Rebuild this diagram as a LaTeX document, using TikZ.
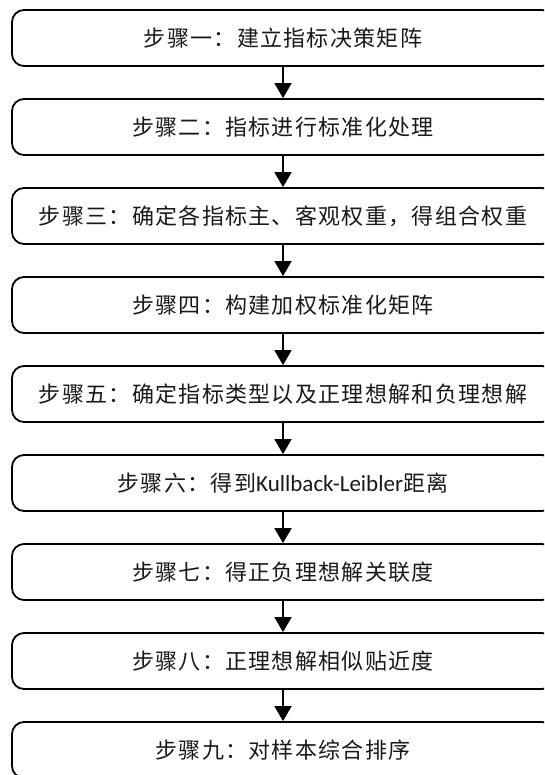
\documentclass[tikz,border=0pt]{standalone}
\usepackage{fontspec}
\setmainfont{Carlito}
\newfontfamily\cjk[LetterSpace=6]{Noto Sans CJK SC}
\usetikzlibrary{arrows.meta}
\tikzset{
  stepbox/.style={draw=black, line width=1.8pt, rounded corners=12pt,
    minimum width=542pt, minimum height=56pt, inner sep=0pt,
    font=\fontsize{22}{26}\selectfont\cjk, text=black!90},
  flowarrow/.style={line width=1.8pt, -{Triangle[width=17pt,length=15pt]}}
}
\begin{document}
\begin{tikzpicture}[x=1pt,y=-1pt]
\useasboundingbox (0,0) rectangle (544,775);
\clip (0,0) rectangle (544,775);
\node[stepbox] (s1) at (283,38) {步骤一：建立指标决策矩阵};
\node[stepbox] (s2) at (283,127) {步骤二：指标进行标准化处理};
\node[stepbox] (s3) at (283,216) {步骤三：确定各指标主、客观权重，得组合权重};
\node[stepbox] (s4) at (283,305) {步骤四：构建加权标准化矩阵};
\node[stepbox] (s5) at (283,394) {步骤五：确定指标类型以及正理想解和负理想解};
\node[stepbox] (s6) at (283,483) {步骤六：得到{\fontsize{23}{26}\selectfont\rmfamily Kullback-Leibler}距离};
\node[stepbox] (s7) at (283,572) {步骤七：得正负理想解关联度};
\node[stepbox] (s8) at (283,661) {步骤八：正理想解相似贴近度};
\node[stepbox] (s9) at (283,750) {步骤九：对样本综合排序};
\foreach \a/\b in {s1/s2,s2/s3,s3/s4,s4/s5,s5/s6,s6/s7,s7/s8,s8/s9}
  \draw[flowarrow] (\a.south) -- (\b.north);
\end{tikzpicture}
\end{document}
